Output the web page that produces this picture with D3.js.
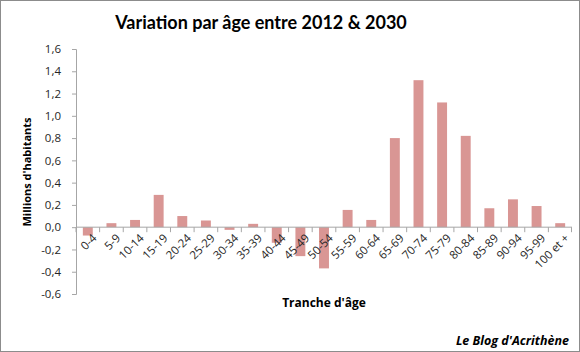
<!DOCTYPE html>
<html>
<head>
<meta charset="utf-8">
<script src="https://cdn.jsdelivr.net/npm/d3@7"></script>
<style>
  body { margin: 0; background: #fff; }
  text { font-family: "Open Sans", "DejaVu Sans", sans-serif; }
</style>
</head>
<body>
<div id="chart"></div>
<script>
const ageGroups = ['0-4', '5-9', '10-14', '15-19', '20-24', '25-29', '30-34', '35-39', '40-44', '45-49',
  '50-54', '55-59', '60-64', '65-69', '70-74', '75-79', '80-84', '85-89', '90-94', '95-99', '100 et +'];
const variation = [-0.075, 0.036, 0.065, 0.29, 0.10, 0.06, -0.024, 0.03, -0.14, -0.26,
  -0.37, 0.155, 0.065, 0.80, 1.32, 1.12, 0.82, 0.17, 0.25, 0.19, 0.036];
const yTicks = [-0.6, -0.4, -0.2, 0, 0.2, 0.4, 0.6, 0.8, 1.0, 1.2, 1.4, 1.6];

const W = 580, H = 352;
const margin = { top: 49, right: 8, bottom: 58, left: 76 };
const width = W - margin.left - margin.right;
const height = H - margin.top - margin.bottom;

const root = d3.select('#chart')
  .append('svg')
  .attr('width', W)
  .attr('height', H);

// Frame
root.append('rect')
  .attr('x', 0.5).attr('y', 0.5)
  .attr('width', W - 1).attr('height', H - 1)
  .attr('fill', '#fff')
  .attr('stroke', '#8c8c8c');

const svg = root.append('g')
  .attr('transform', `translate(${margin.left},${margin.top})`);

const x = d3.scaleBand()
  .domain(ageGroups)
  .range([0, width])
  .paddingInner(0.58)
  .paddingOuter(0.29);

const y = d3.scaleLinear()
  .domain([-0.6, 1.6])
  .range([height, 0]);

const fmt = d => d3.format('.1f')(d).replace('.', ',').replace('−', '-');

// Y axis
const yAxis = svg.append('g')
  .call(d3.axisLeft(y).tickValues(yTicks).tickSize(4).tickPadding(11).tickFormat(fmt));
yAxis.select('.domain').attr('stroke', '#a6a6a6');
yAxis.selectAll('.tick line').attr('stroke', '#a6a6a6');
yAxis.selectAll('text')
  .attr('fill', '#262626')
  .style('font-size', '11.5px');

// Bars
svg.selectAll('.bar')
  .data(variation)
  .enter()
  .append('rect')
  .attr('class', 'bar')
  .attr('x', (d, i) => x(ageGroups[i]))
  .attr('width', x.bandwidth())
  .attr('y', d => y(Math.max(0, d)))
  .attr('height', d => Math.abs(y(d) - y(0)))
  .attr('fill', '#d99694');

// X axis at zero
const y0 = y(0);
const step = x.step();
svg.append('line')
  .attr('x1', 0).attr('x2', width)
  .attr('y1', y0).attr('y2', y0)
  .attr('stroke', '#a6a6a6');

svg.selectAll('.xtick')
  .data(d3.range(ageGroups.length + 1))
  .enter()
  .append('line')
  .attr('class', 'xtick')
  .attr('x1', i => Math.min(i * step, width) - (i === ageGroups.length ? 0.5 : 0))
  .attr('x2', i => Math.min(i * step, width) - (i === ageGroups.length ? 0.5 : 0))
  .attr('y1', y0).attr('y2', y0 + 5)
  .attr('stroke', '#a6a6a6');

svg.selectAll('.xlabel')
  .data(ageGroups)
  .enter()
  .append('text')
  .attr('class', 'xlabel')
  .attr('transform', d => `translate(${x(d) + x.bandwidth() / 2 + 4},${y0 + 6}) rotate(-45)`)
  .attr('text-anchor', 'end')
  .attr('dy', '0.7em')
  .attr('fill', '#262626')
  .style('font-size', '11.5px')
  .text(d => d);

// Titles
root.append('text')
  .attr('x', 261)
  .attr('y', 29)
  .attr('text-anchor', 'middle')
  .style('font-family', 'Lato, "Open Sans", sans-serif')
  .style('font-size', '18px')
  .style('font-weight', 'bold')
  .attr('fill', '#000')
  .text('Variation par âge entre 2012 & 2030');

root.append('text')
  .attr('transform', `translate(31,172) rotate(-90)`)
  .attr('text-anchor', 'middle')
  .style('font-size', '11px')
  .style('font-weight', 'bold')
  .attr('fill', '#000')
  .text("Millions d'habitants");

root.append('text')
  .attr('x', 324)
  .attr('y', 307)
  .attr('text-anchor', 'middle')
  .style('font-size', '12px')
  .style('font-weight', 'bold')
  .attr('fill', '#000')
  .text("Tranche d'âge");

root.append('text')
  .attr('x', 569)
  .attr('y', 345)
  .attr('text-anchor', 'end')
  .style('font-size', '12.5px')
  .style('font-weight', 'bold')
  .style('font-style', 'italic')
  .attr('fill', '#000')
  .text("Le Blog d'Acrithène");
</script>
</body>
</html>
